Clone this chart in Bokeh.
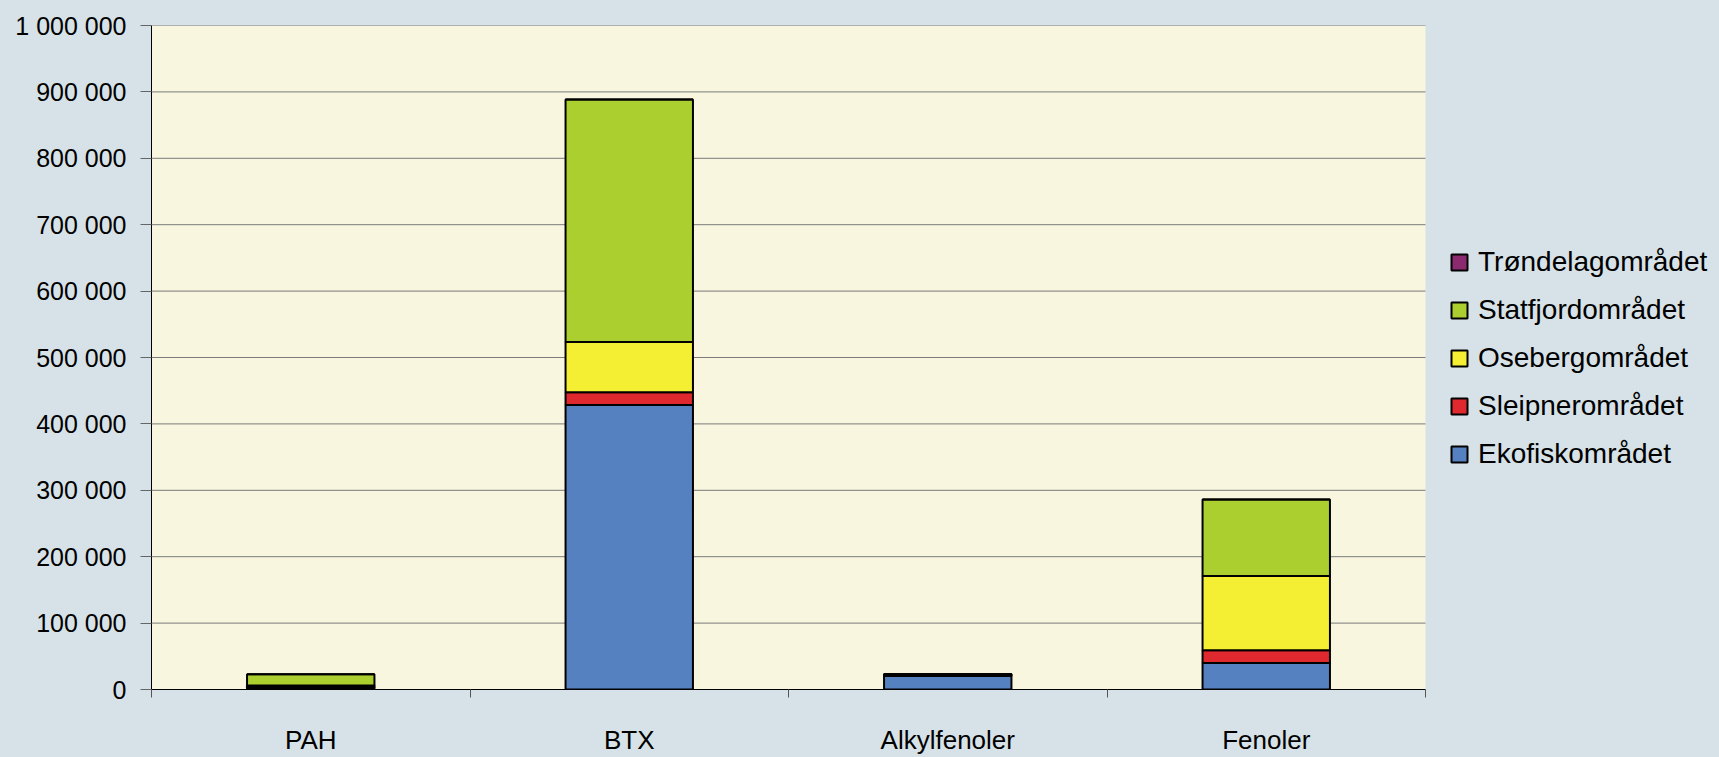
from bokeh.plotting import figure
from bokeh.models import (Range1d, FixedTicker, Legend, LegendItem, ColumnDataSource)
from bokeh.embed import file_html
from bokeh.resources import INLINE

categories = ["PAH", "BTX", "Alkylfenoler", "Fenoler"]
ekofisk = [3000, 428600, 20500, 40000]
sleipner = [1000, 19000, 1000, 19000]
oseberg = [2000, 75600, 1000, 112000]
statfjord = [17000, 365400, 1000, 115000]
trondelag = [0, 0, 0, 0]
series_names = ["Ekofiskområdet", "Sleipnerområdet", "Osebergområdet",
                "Statfjordområdet", "Trøndelagområdet"]
colors = ["#5581C1", "#E0292F", "#F5EF33", "#AACF2F", "#8B2A6F"]
y_ticks = [0, 100000, 200000, 300000, 400000, 500000, 600000, 700000, 800000, 900000, 1000000]

BG = "#D6E2E7"
PLOT_BG = "#F8F6DF"
FONT = "Liberation Sans"

W, H = 1719, 757
LEFT, TOP, BOTTOM = 151, 25, 67
AREA_W = 1274  # width of the drawn plot area in px
n = len(categories)
frame_w = W - LEFT
x_end = n * frame_w / AREA_W
y_max = y_ticks[-1]

xs = [i + 0.5 for i in range(n)]
src = ColumnDataSource(dict(x=xs, e=ekofisk, s=sleipner, o=oseberg, st=statfjord, t=trondelag))

p = figure(width=W, height=H, output_backend="svg", toolbar_location=None,
           x_range=Range1d(0, x_end), y_range=Range1d(0, y_max),
           min_border_left=LEFT, min_border_right=0, min_border_top=TOP, min_border_bottom=BOTTOM)
p.background_fill_color = BG
p.border_fill_color = BG
p.outline_line_color = None

# plot area background and gridlines (limited to the category span)
p.quad(left=[0], right=[n], bottom=[0], top=[y_max], fill_color=PLOT_BG, line_color=None)
p.segment(x0=[0] * len(y_ticks), x1=[n] * len(y_ticks), y0=y_ticks, y1=y_ticks,
          line_color="#7a7a7a", line_width=1)

rs = p.vbar_stack(["e", "s", "o", "st", "t"], x="x", width=0.4, source=src,
                  fill_color=colors, line_color="black", line_width=2)

# axes
p.xaxis.bounds = (0, n)
p.xaxis.ticker = FixedTicker(ticks=xs, minor_ticks=list(range(n + 1)))
p.xaxis.major_label_overrides = {x: c for x, c in zip(xs, categories)}
p.xaxis.major_tick_out = 0
p.xaxis.major_tick_in = 0
p.xaxis.minor_tick_out = 8
p.xaxis.minor_tick_in = 0
p.xaxis.minor_tick_line_color = "#555555"
p.xaxis.axis_line_color = "black"
p.xaxis.major_label_standoff = 27
p.xaxis.major_label_text_font = FONT
p.xaxis.major_label_text_font_size = "26px"
p.xaxis.major_label_text_color = "black"

p.yaxis.ticker = FixedTicker(ticks=y_ticks)
p.yaxis.major_label_overrides = {v: f"{v:,}".replace(",", " ") for v in y_ticks}
p.yaxis.major_tick_out = 11
p.yaxis.major_tick_in = 0
p.yaxis.minor_tick_line_color = None
p.yaxis.major_tick_line_color = "#666666"
p.yaxis.axis_line_color = "black"
p.yaxis.major_label_standoff = 14
p.yaxis.major_label_text_font = FONT
p.yaxis.major_label_text_font_size = "25px"
p.yaxis.major_label_text_color = "black"

p.xgrid.grid_line_color = None
p.ygrid.grid_line_color = None

items = [LegendItem(label=nm, renderers=[r]) for nm, r in zip(series_names, rs)][::-1]
legend = Legend(items=items, location=(AREA_W + 24, 219), orientation="vertical",
                glyph_width=20, glyph_height=20, label_height=20, spacing=16,
                label_standoff=9, padding=0, margin=0,
                background_fill_alpha=0, border_line_color=None,
                label_text_font=FONT, label_text_font_size="28px", label_text_color="black")
p.add_layout(legend, "center")

html = file_html(p, INLINE)
html = html.replace("<head>", "<head><style>body{margin:0;background:%s;}</style>" % BG, 1)
open("out.html", "w").write(html)
